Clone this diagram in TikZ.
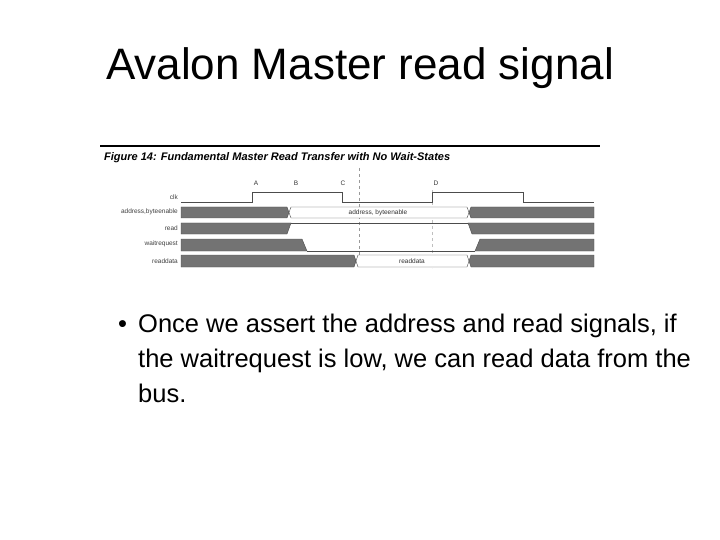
\documentclass[tikz,border=0pt]{standalone}
\usepackage{fontspec}
\setmainfont{Liberation Sans}
\begin{document}
\begin{tikzpicture}[x=1pt,y=-1pt,
  sig/.style={fill=black!55,draw=black!70,line width=0.4pt},
  wht/.style={fill=white,draw=black!70,line width=0.4pt},
  lbl/.style={font=\fontsize{6.5}{6.5}\selectfont,anchor=east,inner sep=0,text=black!75},
  tick/.style={font=\fontsize{6.5}{6.5}\selectfont,inner sep=0,text=black!80},
  btxt/.style={anchor=base west,inner sep=0,font=\fontsize{25.5}{25.5}\selectfont}]
\useasboundingbox (0,0) rectangle (720,540);
\node (title) at (360,68) {\fontsize{44}{44}\selectfont Avalon Master read signal};
% figure
\draw[line width=1.2pt] (100,146) -- (600,146);
\node[anchor=west,inner sep=0] (fig) at (104,158) {\fontsize{11}{11}\selectfont\bfseries\itshape Figure 14: Fundamental Master Read Transfer with No Wait-States};
\draw[black!40,dashed,line width=0.3pt] (359,168) -- (359,268);
\draw[black!25,dashed,line width=0.3pt] (432,190) -- (432,268);
\node[tick] (A) at (256,183) {A};
\node[tick] (B) at (296,183) {B};
\node[tick] (C) at (343,183) {C};
\node[tick] (D) at (436,183) {D};
\draw[black!70,line width=0.5pt] (181,202) -- (252,202) -- (252,192) -- (342,192) -- (342,202) -- (432,202) -- (432,192) -- (523,192) -- (523,202) -- (594,202);
\node[lbl] (l1) at (178,197) {clk};
\node[lbl] (l2) at (178,212) {address,byteenable};
\node[lbl] (l3) at (178,228) {read};
\node[lbl] (l4) at (178,244) {waitrequest};
\node[lbl] (l5) at (178,261) {readdata};
% address
\draw[sig] (181,207) -- (287,207) -- (289,212.5) -- (287,218) -- (181,218) -- cycle;
\draw[wht] (291,207) -- (467,207) -- (469,212.5) -- (467,218) -- (291,218) -- (289,212.5) -- cycle;
\draw[sig] (471,207) -- (594,207) -- (594,218) -- (471,218) -- (469,212.5) -- cycle;
\node[tick] at (378,212.5) {address, byteenable};
% read
\draw[sig] (181,223) -- (291,223) -- (287,234) -- (181,234) -- cycle;
\draw[black!70,line width=0.5pt] (291,223) -- (468,223);
\draw[sig] (468,223) -- (594,223) -- (594,234) -- (472,234) -- cycle;
% waitrequest
\draw[sig] (181,239) -- (302,239) -- (307,251) -- (181,251) -- cycle;
\draw[black!70,line width=0.5pt] (307,251) -- (475,251);
\draw[sig] (480,239) -- (594,239) -- (594,251) -- (475,251) -- cycle;
% readdata
\draw[sig] (181,255) -- (354,255) -- (356,261) -- (354,267) -- (181,267) -- cycle;
\draw[wht] (358,255) -- (467,255) -- (469,261) -- (467,267) -- (358,267) -- (356,261) -- cycle;
\draw[sig] (471,255) -- (594,255) -- (594,267) -- (471,267) -- (469,261) -- cycle;
\node[tick] at (412,261) {readdata};
% bullet
\node[btxt] (bul) at (118,332) {•};
\node[btxt] (t1) at (138,332) {Once we assert the address and read signals, if};
\node[btxt] (t2) at (138,367) {the waitrequest is low, we can read data from the};
\node[btxt] (t3) at (138,402) {bus.};
\end{tikzpicture}
\end{document}
